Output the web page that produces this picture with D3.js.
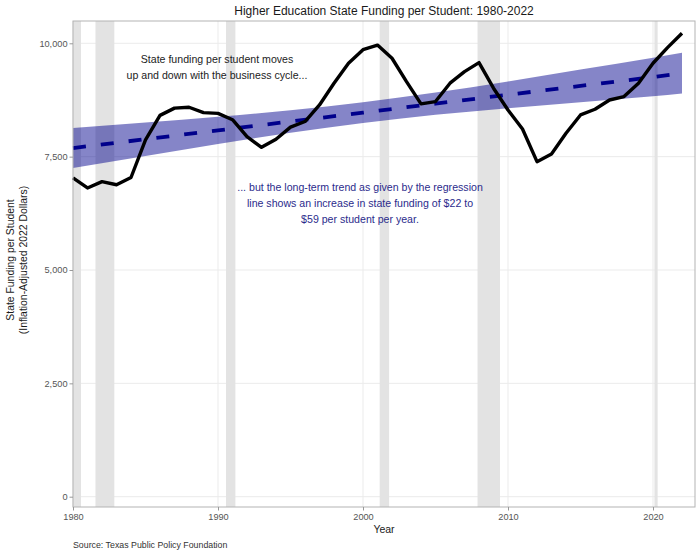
<!DOCTYPE html>
<html>
<head>
<meta charset="utf-8">
<script src="https://cdn.jsdelivr.net/npm/d3@7"></script>
<style>
  html, body { margin: 0; padding: 0; background: #fff; }
  svg { display: block; font-family: "Liberation Sans", Arial, sans-serif; }
</style>
</head>
<body>
<svg id="chart" width="700" height="553"></svg>
<script>
// ---- data ----
const years = [1980,1981,1982,1983,1984,1985,1986,1987,1988,1989,
               1990,1991,1992,1993,1994,1995,1996,1997,1998,1999,
               2000,2001,2002,2003,2004,2005,2006,2007,2008,2009,
               2010,2011,2012,2013,2014,2015,2016,2017,2018,2019,
               2020,2021,2022];
const funding = [7030,6810,6950,6880,7040,7870,8410,8570,8590,8470,
                 8455,8315,7940,7705,7885,8150,8275,8640,9120,9560,
                 9860,9960,9670,9155,8665,8715,9120,9375,9575,9010,
                 8530,8110,7390,7560,8015,8420,8545,8750,8825,9120,
                 9560,9905,10220];

// regression line and its confidence band
const trendYears = [1980,1985,1990,1995,2000,2005,2010,2015,2020,2022];
const trendFit   = [7690,7885,8080,8275,8470,8670,8865,9060,9255,9340];
const trendLower = [7250,7515,7780,8025,8240,8425,8570,8700,8830,8895];
const trendUpper = [8130,8255,8380,8525,8700,8915,9160,9420,9680,9790];

// recessions (start, end in fractional years)
const recStart = [1980.0, 1981.55, 1990.55, 2001.15, 2007.9, 2020.1];
const recEnd   = [1980.55, 1982.85, 1991.2, 2001.8, 2009.45, 2020.32];

const xTicks = [1980, 1990, 2000, 2010, 2020];
const yTicks = [0, 2500, 5000, 7500, 10000];

const titleText = "Higher Education State Funding per Student: 1980-2022";
const note1 = ["State funding per student moves", "up and down with the business cycle..."];
const note2 = ["... but the long-term trend as given by the regression",
               "line shows an increase in state funding of $22 to",
               "$59 per student per year."];
const yTitle = ["State Funding per Student", "(Inflation-Adjusted 2022 Dollars)"];

// ---- layout ----
const svg = d3.select("#chart");
const panel = { left: 73, right: 695, top: 21, bottom: 507 };

const x = d3.scaleLinear().domain([1980, 2020]).range([73, 653]);
const y = d3.scaleLinear().domain([0, 10000]).range([496.7, 43.3]);

const g = svg.append("g");

// panel background
g.append("rect")
  .attr("x", panel.left).attr("y", panel.top)
  .attr("width", panel.right - panel.left).attr("height", panel.bottom - panel.top)
  .attr("fill", "#fff");

// gridlines
g.append("g").selectAll("line").data(xTicks).join("line")
  .attr("x1", d => x(d)).attr("x2", d => x(d))
  .attr("y1", panel.top).attr("y2", panel.bottom)
  .attr("stroke", "#ebebeb").attr("stroke-width", 1);
g.append("g").selectAll("line").data(yTicks).join("line")
  .attr("y1", d => y(d)).attr("y2", d => y(d))
  .attr("x1", panel.left).attr("x2", panel.right)
  .attr("stroke", "#ebebeb").attr("stroke-width", 1);

// recession bands
const rec = recStart.map((s, i) => ({ s, e: recEnd[i] }));
g.append("g").selectAll("rect").data(rec).join("rect")
  .attr("x", d => x(d.s)).attr("width", d => x(d.e) - x(d.s))
  .attr("y", panel.top).attr("height", panel.bottom - panel.top)
  .attr("fill", "#e3e3e3");

// confidence band
const bandData = trendYears.map((yr, i) => ({ yr, lo: trendLower[i], hi: trendUpper[i], fit: trendFit[i] }));
g.append("path").datum(bandData)
  .attr("d", d3.area().x(d => x(d.yr)).y0(d => y(d.lo)).y1(d => y(d.hi)).curve(d3.curveMonotoneX))
  .attr("fill", "#00008b").attr("fill-opacity", 0.48);

// regression line
g.append("path").datum(bandData)
  .attr("d", d3.line().x(d => x(d.yr)).y(d => y(d.fit)))
  .attr("fill", "none").attr("stroke", "#00008b")
  .attr("stroke-width", 3.8).attr("stroke-dasharray", "13,15");

// funding line
const lineData = years.map((yr, i) => ({ yr, v: funding[i] }));
g.append("path").datum(lineData)
  .attr("d", d3.line().x(d => x(d.yr)).y(d => y(d.v)))
  .attr("fill", "none").attr("stroke", "#000")
  .attr("stroke-width", 3.4).attr("stroke-linejoin", "round").attr("stroke-linecap", "butt");

// panel border
g.append("rect")
  .attr("x", panel.left).attr("y", panel.top)
  .attr("width", panel.right - panel.left).attr("height", panel.bottom - panel.top)
  .attr("fill", "none").attr("stroke", "#b3b3b3").attr("stroke-width", 1);

// axes
const yAxis = d3.axisLeft(y).tickValues(yTicks).tickSize(3.5).tickPadding(2).tickFormat(d3.format(","));
const yg = svg.append("g").attr("transform", `translate(${panel.left},0)`).call(yAxis);
yg.select(".domain").remove();
yg.selectAll(".tick line").attr("stroke", "#999");
yg.selectAll(".tick text").attr("fill", "#555").attr("font-size", "9.2px")
  .attr("font-family", "'Liberation Sans', Arial, sans-serif");

const xAxis = d3.axisBottom(x).tickValues(xTicks).tickSize(3.5).tickPadding(3).tickFormat(d3.format("d"));
const xg = svg.append("g").attr("transform", `translate(0,${panel.bottom})`).call(xAxis);
xg.select(".domain").remove();
xg.selectAll(".tick line").attr("stroke", "#999");
xg.selectAll(".tick text").attr("fill", "#555").attr("font-size", "9.2px")
  .attr("font-family", "'Liberation Sans', Arial, sans-serif");

// title
svg.append("text").attr("x", (panel.left + panel.right) / 2).attr("y", 15)
  .attr("text-anchor", "middle").attr("font-size", "12px").attr("fill", "#1a1a1a")
  .text(titleText);

// axis titles
svg.append("text").attr("x", (panel.left + panel.right) / 2).attr("y", 533)
  .attr("text-anchor", "middle").attr("font-size", "10.5px").attr("fill", "#1a1a1a")
  .text("Year");

const yt = svg.append("text")
  .attr("transform", `translate(0,${(panel.top + panel.bottom) / 2 - 4}) rotate(-90)`)
  .attr("text-anchor", "middle").attr("font-size", "10.4px").attr("fill", "#1a1a1a");
yt.selectAll("tspan").data(yTitle).join("tspan")
  .attr("x", 0).attr("y", (d, i) => 14 + i * 13).text(d => d);

// annotations
const a1 = svg.append("text").attr("text-anchor", "middle").attr("font-size", "10.6px").attr("fill", "#222");
a1.selectAll("tspan").data(note1).join("tspan")
  .attr("x", x(1990) - 1).attr("y", (d, i) => 63 + i * 15.8).text(d => d);

const a2 = svg.append("text").attr("text-anchor", "middle").attr("font-size", "10.6px").attr("fill", "#2b2b8c");
a2.selectAll("tspan").data(note2).join("tspan")
  .attr("x", x(2000) - 3).attr("y", (d, i) => 191.4 + i * 15.7).text(d => d);

// source caption
svg.append("text").attr("x", panel.left).attr("y", 547.5)
  .attr("font-size", "8.8px").attr("fill", "#333")
  .text("Source: Texas Public Policy Foundation");
</script>
</body>
</html>
